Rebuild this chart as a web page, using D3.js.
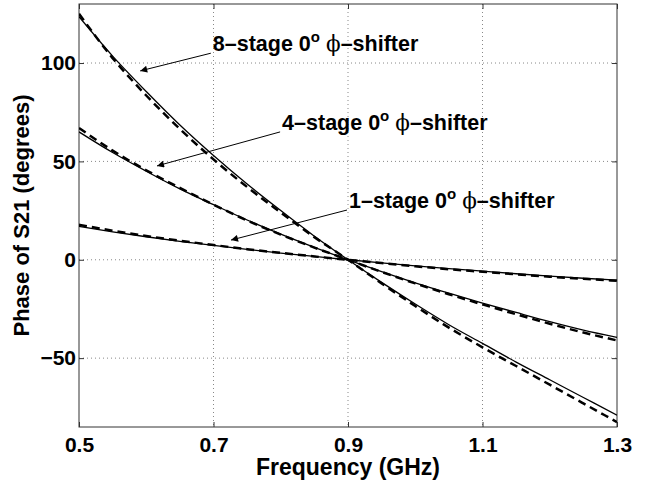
<!DOCTYPE html>
<html><head><meta charset="utf-8">
<script src="https://cdn.jsdelivr.net/npm/d3@7/dist/d3.min.js"></script>
<style>body{margin:0;background:#fff}svg{display:block}text{font-family:"Liberation Sans",Arial,Helvetica,sans-serif;font-weight:bold;fill:#000}</style>
</head><body><svg id="c" width="647" height="480"></svg>
<script>
const freq = [0.5,0.55,0.6,0.65,0.7,0.75,0.8,0.85,0.9,0.95,1.0,1.05,1.1,1.15,1.2,1.25,1.3];
const stage8Solid  = [123.5,103.5,85.5,68.5,53,38.5,25,12,0,-11.5,-22.5,-33,-42.5,-52,-61,-70,-79];
const stage8Dashed = [125,102.5,83.5,66.5,51,37,24,11.5,0,-12,-23.5,-34.5,-44.5,-54,-63.5,-73,-82.5];
const stage4Solid  = [65,54.5,45,36,28,20.2,13,6.3,0,-6,-11.7,-17,-22,-26.8,-31.5,-35.8,-39.5];
const stage4Dashed = [67,55.5,45.5,36.5,28,20,12.8,6.2,0,-6.2,-12,-17.5,-22.7,-27.7,-32.5,-37,-41];
const stage1Solid  = [17,14.2,11.7,9.4,7.3,5.3,3.4,1.7,0,-1.6,-3.1,-4.5,-5.8,-7.1,-8.3,-9.4,-10.3];
const stage1Dashed = [17.8,14.8,12.1,9.7,7.5,5.4,3.5,1.7,0,-1.7,-3.3,-4.8,-6.1,-7.4,-8.6,-9.7,-10.7];
const xTicks = [0.5,0.7,0.9,1.1,1.3];
const yTicks = [-50,0,50,100];
const annLabels = ["8\u2013stage 0","4\u2013stage 0","1\u2013stage 0"];
const annFreqTip = [0.591,0.616,0.726];
const annValTip = [96,47.7,10];
const annFreqText = [0.699,0.802,0.9015];
const annValText = [106,66,26.3];

const svg = d3.select("#c");
const L=79,R=617,T=4,B=427;
const x = d3.scaleLinear().domain([0.5,1.3]).range([L,R]);
const y = d3.scaleLinear().domain([-85,130]).range([B,T]);

svg.append("defs").append("clipPath").attr("id","clip").append("rect")
  .attr("x",L).attr("y",T).attr("width",R-L).attr("height",B-T);
const mk = svg.select("defs").append("marker").attr("id","arr").attr("viewBox","0 0 10 10")
  .attr("refX",10).attr("refY",5).attr("markerWidth",12).attr("markerHeight",7)
  .attr("markerUnits","userSpaceOnUse").attr("orient","auto");
mk.append("path").attr("d","M0,0L10,5L0,10z").attr("fill","#000");

// grid
const g = svg.append("g");
g.selectAll(".gx").data(xTicks.slice(1,-1)).join("line")
  .attr("x1",d=>x(d)).attr("x2",d=>x(d)).attr("y1",T).attr("y2",B)
  .attr("stroke","#888").attr("stroke-width",1).attr("stroke-dasharray","1,3");
g.selectAll(".gy").data(yTicks).join("line")
  .attr("y1",d=>y(d)).attr("y2",d=>y(d)).attr("x1",L).attr("x2",R)
  .attr("stroke","#888").attr("stroke-width",1).attr("stroke-dasharray","1,3");

// axes
const ax = d3.axisBottom(x).tickValues(xTicks).tickSize(-5).tickFormat(d3.format(".1f")).tickPadding(10);
const gxA = svg.append("g").attr("transform",`translate(0,${B})`).call(ax);
const ay = d3.axisLeft(y).tickValues(yTicks).tickSize(-5).tickPadding(3);
const gyA = svg.append("g").attr("transform",`translate(${L},0)`).call(ay);
svg.append("g").attr("transform",`translate(0,${T})`).call(d3.axisTop(x).tickValues(xTicks).tickSize(-5).tickFormat(""));
svg.append("g").attr("transform",`translate(${R},0)`).call(d3.axisRight(y).tickValues(yTicks).tickSize(-5).tickFormat(""));
svg.selectAll(".domain").remove();
svg.selectAll(".tick line").attr("stroke","#333");
svg.selectAll(".tick text").style("font-size","21px").style("font-family","Liberation Sans, Arial, sans-serif").style("font-weight","bold").attr("fill","#000");
gxA.selectAll(".tick text").attr("dy","0.71em");
svg.append("rect").attr("x",L).attr("y",T).attr("width",R-L).attr("height",B-T)
  .attr("fill","none").attr("stroke","#333").attr("stroke-width",1);

// lines
const line = d3.line().x((d,i)=>x(freq[i])).y(d=>y(d)).curve(d3.curveMonotoneX);
const lg = svg.append("g").attr("clip-path","url(#clip)");
[stage8Solid,stage4Solid,stage1Solid].forEach(s=>{
  lg.append("path").attr("d",line(s)).attr("fill","none").attr("stroke","#000").attr("stroke-width",1.3);
});
[stage8Dashed,stage4Dashed,stage1Dashed].forEach(s=>{
  lg.append("path").attr("d",line(s)).attr("fill","none").attr("stroke","#000").attr("stroke-width",2.5).attr("stroke-dasharray","8,5");
});

// annotations
annLabels.forEach((lab,i)=>{
  const tx=x(annFreqText[i]), ty=y(annValText[i]);
  svg.append("line").attr("x1",tx-2).attr("y1",ty+2).attr("x2",x(annFreqTip[i])).attr("y2",y(annValTip[i]))
    .attr("stroke","#000").attr("stroke-width",1).attr("marker-end","url(#arr)");
  const t = svg.append("text").attr("x",tx).attr("y",ty).style("font-size","21.5px");
  t.append("tspan").text(lab);
  t.append("tspan").attr("dy",-9).style("font-size","15px").text("o");
  t.append("tspan").attr("dy",9).text(" ");
  t.append("tspan").style("font-family","DejaVu Serif, serif").style("font-weight","normal").text("\u03d5");
  t.append("tspan").text("\u2013shifter");
});

// axis titles
svg.append("text").attr("x",(L+R)/2).attr("y",475).attr("text-anchor","middle").style("font-size","23px").text("Frequency (GHz)");
svg.append("text").attr("transform",`translate(29,${(T+B)/2}) rotate(-90)`).attr("text-anchor","middle").style("font-size","22px").text("Phase of S21 (degrees)");
</script></body></html>
